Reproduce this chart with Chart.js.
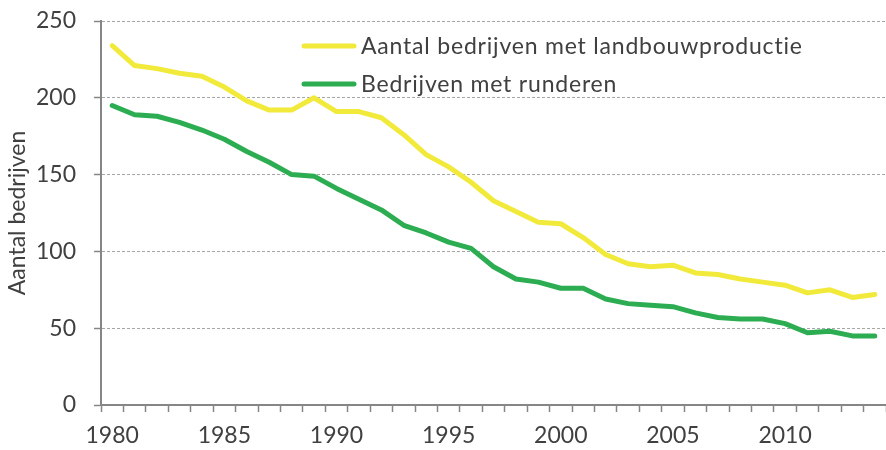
<!DOCTYPE html>
<html>
<head>
<meta charset="utf-8">
<script src="https://cdn.jsdelivr.net/npm/chart.js@4"></script>
<style>
html,body{margin:0;padding:0;background:#fff;}
#wrap{width:886px;height:450px;position:relative;}
</style>
</head>
<body>
<div id="wrap"><canvas id="c" width="886" height="450"></canvas></div>
<script>
const years = [1980,1981,1982,1983,1984,1985,1986,1987,1988,1989,1990,1991,1992,1993,1994,1995,1996,1997,1998,1999,2000,2001,2002,2003,2004,2005,2006,2007,2008,2009,2010,2011,2012,2013,2014];
const landbouw = [234,221,219,216,214,207,198,192,192,200,191,191,187,176,163,155,145,133,126,119,118,109,98,92,90,91,86,85,82,80,78,73,75,70,72];
const runderen = [195,189,188,184,179,173,165,158,150,149,141,134,127,117,112,106,102,90,82,80,76,76,69,66,65,64,60,57,56,56,53,47,48,45,45];
const seriesNames = ['Aantal bedrijven met landbouwproductie','Bedrijven met runderen'];
const yTitle = 'Aantal bedrijven';

const FONT = 'Lato, "Open Sans", sans-serif';
const TXT = '#404040';
const FS = 23;

const legendPlugin = {
  id: 'insideLegend',
  afterDraw(chart) {
    const ctx = chart.ctx;
    const rows = [46, 84];
    chart.data.datasets.forEach((ds, i) => {
      const y = rows[i];
      ctx.save();
      ctx.strokeStyle = ds.borderColor;
      ctx.lineWidth = 5;
      ctx.lineCap = 'round';
      ctx.beginPath();
      ctx.moveTo(304, y);
      ctx.lineTo(354, y);
      ctx.stroke();
      ctx.fillStyle = TXT;
      ctx.font = FS + 'px ' + FONT;
      if ('letterSpacing' in ctx) ctx.letterSpacing = '0.8px';
      ctx.textBaseline = 'middle';
      ctx.textAlign = 'left';
      ctx.fillText(ds.label, 361, y + 1);
      ctx.restore();
    });
  }
};

new Chart(document.getElementById('c'), {
  type: 'line',
  data: {
    labels: years,
    datasets: [
      {label: seriesNames[0], data: landbouw, borderColor: '#F2EA3B', borderWidth: 5, pointRadius: 0, tension: 0, borderJoinStyle: 'round', borderCapStyle: 'round'},
      {label: seriesNames[1], data: runderen, borderColor: '#2CAD52', borderWidth: 5, pointRadius: 0, tension: 0, borderJoinStyle: 'round', borderCapStyle: 'round'}
    ]
  },
  options: {
    responsive: false,
    animation: false,
    devicePixelRatio: 1,
    layout: {padding: {top: 21, right: 0, left: 0, bottom: 0}},
    plugins: {legend: {display: false}, tooltip: {enabled: false}},
    scales: {
      x: {
        type: 'category',
        offset: true,
        afterFit(s) { s.height = 45; s.paddingLeft = 0; s.paddingRight = 0; },
        grid: {offset: true, drawOnChartArea: false, drawTicks: true, tickLength: 7, tickColor: '#868686', tickWidth: 1.5},
        border: {display: true, color: '#868686', width: 2},
        ticks: {
          autoSkip: false, maxRotation: 0, padding: 10, color: TXT,
          font: {family: FONT, size: FS},
          callback(v, i) { const y = years[i]; return y % 5 === 0 ? String(y) : ''; }
        }
      },
      y: {
        min: 0, max: 250,
        afterFit(s) { s.width = 101; s.paddingTop = 0; s.paddingBottom = 0; },
        grid: {color: '#A6A6A6', lineWidth: 1, drawTicks: true, tickLength: 7, tickColor: '#868686', tickWidth: 1.5,
               tickBorderDash: []},
        border: {display: true, color: '#868686', width: 2, dash: [3, 2]},
        ticks: {stepSize: 50, padding: 18, color: TXT, font: {family: FONT, size: FS}},
        title: {display: true, text: yTitle, color: TXT, font: {family: FONT, size: FS}, padding: {top: 4, bottom: 0}}
      }
    }
  },
  plugins: [legendPlugin]
});
</script>
</body>
</html>
